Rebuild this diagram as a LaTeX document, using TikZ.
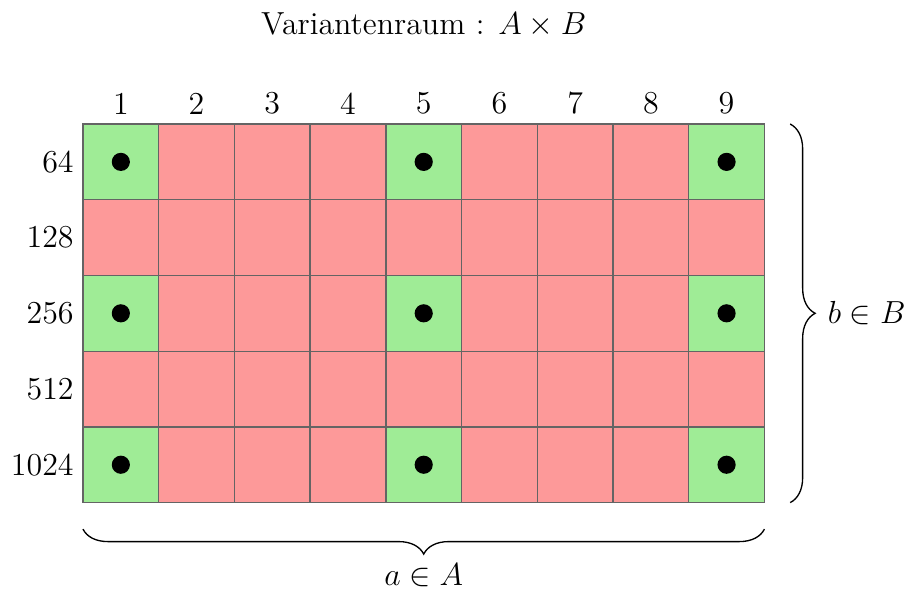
\documentclass[tikz,border=0pt]{standalone}
\usetikzlibrary{decorations.pathreplacing,calc}
\definecolor{okgreen}{RGB}{159,236,150}
\definecolor{badred}{RGB}{253,153,153}
\definecolor{gridline}{RGB}{100,100,100}
\tikzset{
  cell/.style={draw=gridline, line width=0.5pt, minimum size=1cm, inner sep=0pt, outer sep=0pt},
  dot/.style={circle, fill=black, minimum size=0.24cm, inner sep=0pt},
  bracestyle/.style={decorate, decoration={brace, amplitude=0.33cm}, line width=0.5pt},
  every node/.append style={font=\large},
}
\begin{document}
\begin{tikzpicture}
\useasboundingbox (-1.096,-6.14) rectangle (10.87,1.638);
\node (title) at (4.5,1.31) {Variantenraum : $A\times B$};
\foreach \r/\lab in {1/64,2/128,3/256,4/512,5/1024} {
  \foreach \c in {1,...,9} {
    \pgfmathsetmacro{\isg}{(\r==1 || \r==3 || \r==5) && (\c==1 || \c==5 || \c==9) ? 1 : 0}
    \ifdim\isg pt>0.5pt
      \node[cell, fill=okgreen] (c-\r-\c) at (\c-0.5,-\r+0.5) {};
      \node[dot] (d-\r-\c) at (c-\r-\c.center) {};
    \else
      \node[cell, fill=badred] (c-\r-\c) at (\c-0.5,-\r+0.5) {};
    \fi
  }
  \node[anchor=east] (row-\r) at (0,-\r+0.5) {\lab};
}
\foreach \c in {1,...,9} {
  \node[anchor=south] (col-\c) at (\c-0.5,0) {\c};
}
\coordinate (rbTop) at ($(c-1-9.north east)+(0.34,0)$);
\coordinate (rbBot) at ($(c-5-9.south east)+(0.34,0)$);
\draw[bracestyle] (rbTop) -- (rbBot) node[midway, right=0.47cm, inner sep=0.5pt] (blab) {$b\in B$};
\coordinate (bbL) at ($(c-5-1.south west)+(0,-0.35)$);
\coordinate (bbR) at ($(c-5-9.south east)+(0,-0.35)$);
\draw[bracestyle] (bbR) -- (bbL);
\node[anchor=base, inner sep=0pt] (alab) at (4.5,-6.09) {$a\in A$};
\end{tikzpicture}
\end{document}
